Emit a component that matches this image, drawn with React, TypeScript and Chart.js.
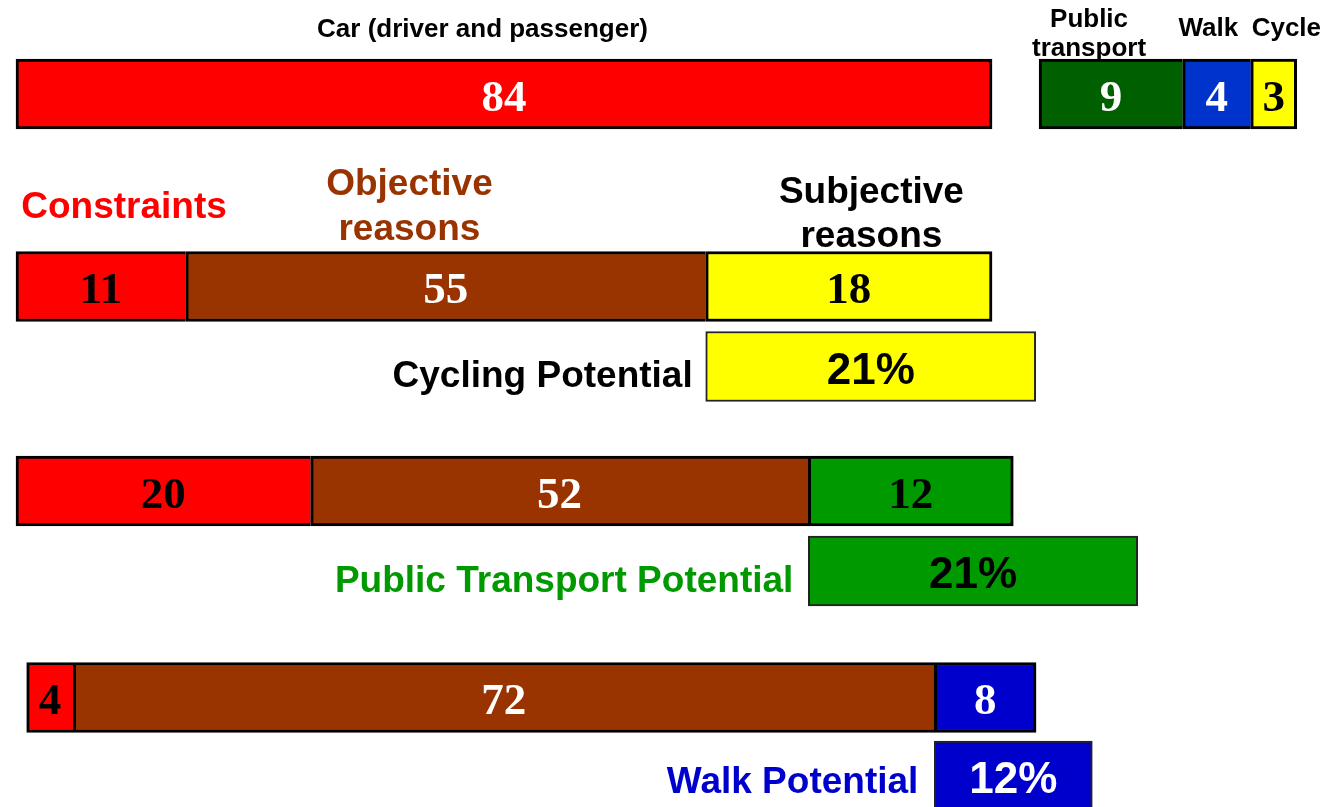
import React, { useEffect, useRef } from 'react';
import { Chart, registerables } from 'chart.js';

Chart.register(...registerables);

const SANS = '"Liberation Sans", Arial, Helvetica, sans-serif';
const SERIF = '"Liberation Serif", "Times New Roman", serif';

// ---------- Data ----------
// Row 1: current mode share (%)
const modeCategories = ['Car (driver and passenger)', 'Public transport', 'Walk', 'Cycle'];
const modeValues = [84, 9, 4, 3];
const modeStarts = [0, 88.05, 100.41, 106.27];
const modeEnds = [84, 100.41, 106.27, 110.22];

// Reasons for not using each mode (car users)
const reasonCategories = ['Constraints', 'Objective reasons', 'Subjective reasons'];
const cyclingReasonValues = [11, 55, 18];
const cyclingEdges = [0, 14.61, 59.36, 84];
const ptReasonValues = [20, 52, 12];
const ptEdges = [0, 25.36, 68.19, 85.83];
const walkReasonValues = [4, 72, 8];
const walkEdges = [0.92, 4.93, 79.03, 87.79];

// Potentials (%)
const potentialCategories = ['Cycling Potential', 'Public Transport Potential', 'Walk Potential'];
const potentialValues = [21, 21, 12];
const potentialStarts = [59.36, 68.19, 79.03];
const potentialEnds = [87.76, 96.54, 92.63];

// Row positions on the vertical (reversed, 0-100) axis
const rowModeShare = 11.65;
const rowCycling = 35.5;
const rowCyclingPot = 45.42;
const rowPT = 60.84;
const rowPTPot = 70.76;
const rowWalk = 86.43;
const rowWalkPot = 96.16;

// ---------- Styles ----------
const RED = '#FF0000';
const BROWN = '#993300';
const YELLOW = '#FFFF00';
const DARKGREEN = '#006000';
const GREEN = '#009900';
const BLUE_TOP = '#0033CC';
const BLUE = '#0000CC';

type BarItem = {
  x: [number, number];
  y: number;
  text: string;
  fill: string;
  ink: string;
  serif: boolean;
  bw: { top: number; bottom: number; left: number; right: number };
  bc: string;
};

const bars: BarItem[] = [];

function segBorder(i: number, n: number) {
  return { top: 3, bottom: 3, left: 3, right: i === n - 1 ? 3 : 0 };
}

// Row 1
const modeFills = [RED, DARKGREEN, BLUE_TOP, YELLOW];
const modeInks = ['#FFFFFF', '#FFFFFF', '#FFFFFF', '#000000'];
modeValues.forEach((v, i) => {
  bars.push({
    x: [modeStarts[i], modeEnds[i]],
    y: rowModeShare,
    text: String(v),
    fill: modeFills[i],
    ink: modeInks[i],
    serif: true,
    bw: i === 0 ? { top: 3, bottom: 3, left: 3, right: 3 } : segBorder(i - 1, 3),
    bc: '#000000',
  });
});

function addReasonRow(values: number[], edges: number[], y: number, fills: string[], inks: string[]) {
  values.forEach((v, i) => {
    bars.push({
      x: [edges[i], edges[i + 1]],
      y,
      text: String(v),
      fill: fills[i],
      ink: inks[i],
      serif: true,
      bw: segBorder(i, values.length),
      bc: '#000000',
    });
  });
}

addReasonRow(cyclingReasonValues, cyclingEdges, rowCycling, [RED, BROWN, YELLOW], ['#000000', '#FFFFFF', '#000000']);
addReasonRow(ptReasonValues, ptEdges, rowPT, [RED, BROWN, GREEN], ['#000000', '#FFFFFF', '#000000']);
addReasonRow(walkReasonValues, walkEdges, rowWalk, [RED, BROWN, BLUE], ['#000000', '#FFFFFF', '#FFFFFF']);

const potRows = [rowCyclingPot, rowPTPot, rowWalkPot];
const potFills = [YELLOW, GREEN, BLUE];
const potInks = ['#000000', '#000000', '#FFFFFF'];
potentialValues.forEach((v, i) => {
  bars.push({
    x: [potentialStarts[i], potentialEnds[i]],
    y: potRows[i],
    text: v + '%',
    fill: potFills[i],
    ink: potInks[i],
    serif: false,
    bw: { top: 2, bottom: 2, left: 2, right: 2 },
    bc: '#222222',
  });
});

// ---------- Text annotations ----------
type Note = { lines: string[]; x: number; y: number; align: CanvasTextAlign; color: string; size: number; lh: number };
const notes: Note[] = [
  { lines: [modeCategories[0]], x: 40.15, y: 4.585, align: 'center', color: '#000000', size: 26, lh: 29 },
  { lines: ['Public', 'transport'], x: 92.35, y: 3.35, align: 'center', color: '#000000', size: 26, lh: 29 },
  { lines: [modeCategories[2]], x: 102.62, y: 4.46, align: 'center', color: '#000000', size: 26, lh: 29 },
  { lines: [modeCategories[3]], x: 109.33, y: 4.46, align: 'center', color: '#000000', size: 26, lh: 29 },
  { lines: [reasonCategories[0]], x: 9.3, y: 27.01, align: 'center', color: RED, size: 37, lh: 45 },
  { lines: ['Objective', 'reasons'], x: 33.86, y: 24.16, align: 'center', color: BROWN, size: 37, lh: 45 },
  { lines: ['Subjective', 'reasons'], x: 73.62, y: 25.19, align: 'center', color: '#000000', size: 37, lh: 44 },
  { lines: [potentialCategories[0]], x: 58.24, y: 47.92, align: 'right', color: '#000000', size: 37, lh: 45 },
  { lines: [potentialCategories[1]], x: 66.9, y: 73.32, align: 'right', color: GREEN, size: 37, lh: 45 },
  { lines: [potentialCategories[2]], x: 77.66, y: 98.3, align: 'right', color: BLUE, size: 37, lh: 45 },
];

const labelPlugin = {
  id: 'diagramLabels',
  afterDatasetsDraw(chart: any) {
    const ctx: CanvasRenderingContext2D = chart.ctx;
    const meta = chart.getDatasetMeta(0);
    meta.data.forEach((el: any, i: number) => {
      const p = el.getProps(['x', 'y', 'base'], true);
      const b = bars[i];
      ctx.save();
      ctx.font = b.serif ? `bold 45px ${SERIF}` : `bold 44px ${SANS}`;
      ctx.fillStyle = b.ink;
      ctx.textAlign = 'center';
      ctx.textBaseline = 'alphabetic';
      ctx.fillText(b.text, (p.x + p.base) / 2, p.y + 17);
      ctx.restore();
    });
    const xs = chart.scales.x;
    const ys = chart.scales.y;
    notes.forEach((n) => {
      ctx.save();
      ctx.font = `bold ${n.size}px ${SANS}`;
      ctx.fillStyle = n.color;
      ctx.textAlign = n.align;
      ctx.textBaseline = 'alphabetic';
      const px = xs.getPixelForValue(n.x);
      const py = ys.getPixelForValue(n.y);
      n.lines.forEach((line, k) => ctx.fillText(line, px, py + k * n.lh));
      ctx.restore();
    });
  },
};

export default function App() {
  const ref = useRef<HTMLCanvasElement | null>(null);

  useEffect(() => {
    if (!ref.current) return;
    const chart = new Chart(ref.current, {
      type: 'bar',
      data: {
        datasets: [
          {
            data: bars.map((b) => ({ x: b.x, y: b.y })) as any,
            backgroundColor: bars.map((b) => b.fill),
            borderColor: bars.map((b) => b.bc),
            borderWidth: ((c: any) => bars[c.dataIndex]?.bw ?? 0) as any,
            borderSkipped: false,
            barThickness: 70,
          },
        ],
      },
      options: {
        indexAxis: 'y',
        animation: false,
        responsive: false,
        devicePixelRatio: 1,
        events: [],
        layout: { padding: 0 },
        scales: {
          x: { type: 'linear', min: -1.377, max: 114.12, display: false, offset: false },
          y: { type: 'linear', min: 0, max: 100, reverse: true, display: false, offset: false },
        },
        plugins: {
          legend: { display: false },
          tooltip: { enabled: false },
          title: { display: false },
        },
      },
      plugins: [labelPlugin],
    });
    return () => chart.destroy();
  }, []);

  return (
    <div style={{ position: 'absolute', left: 0, top: 0, width: 1342, height: 807, background: '#FFFFFF' }}>
      <canvas ref={ref} width={1342} height={807} style={{ display: 'block' }} />
    </div>
  );
}
